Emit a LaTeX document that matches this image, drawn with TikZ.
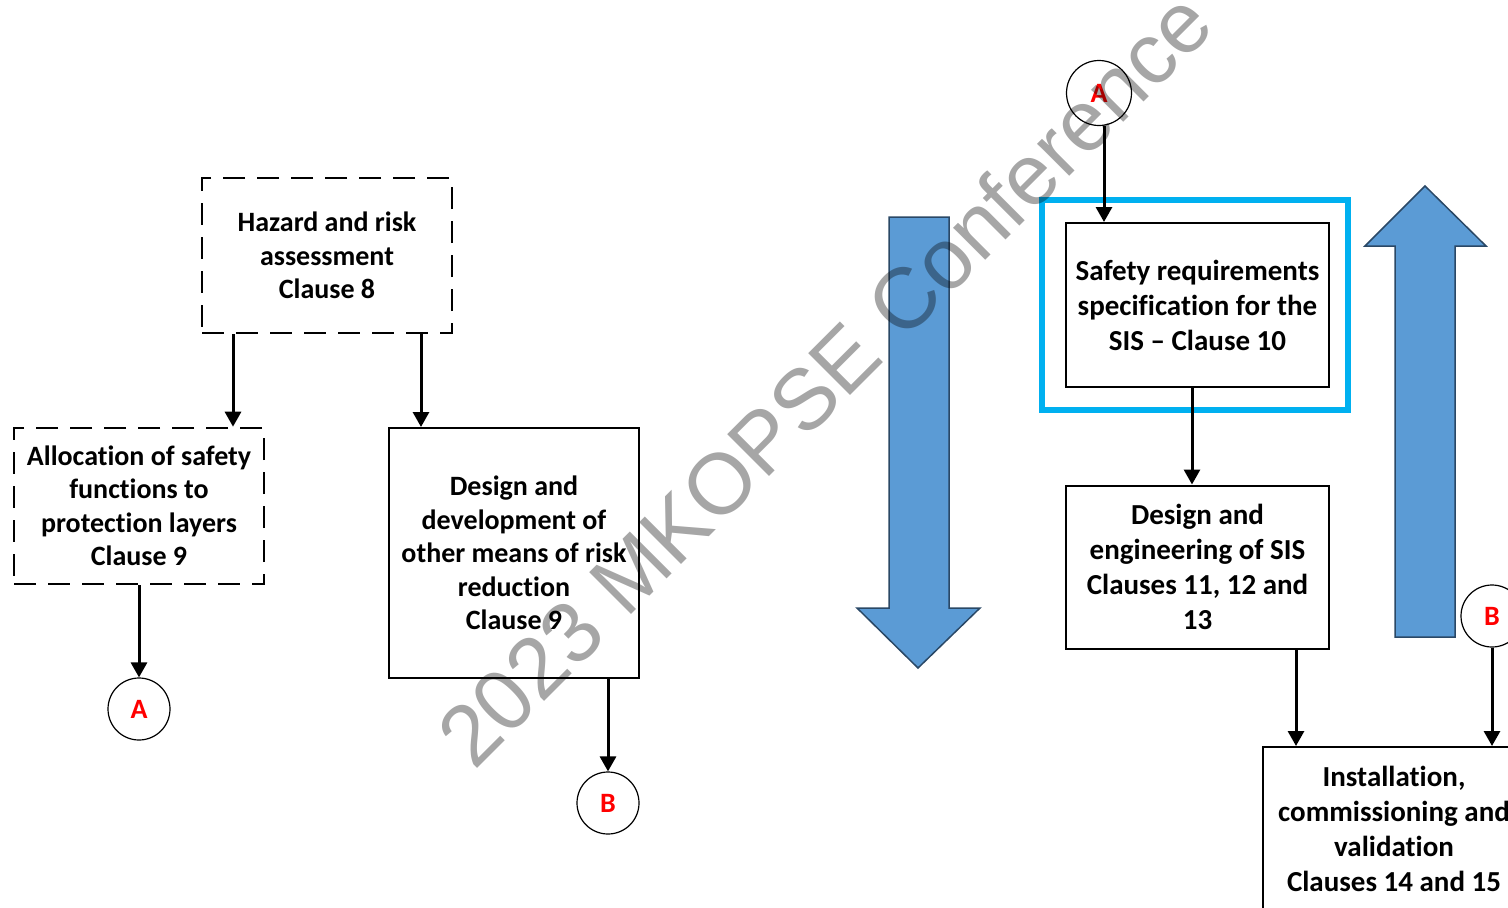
\documentclass[tikz,border=0pt]{standalone}
\usepackage{fontspec}
\setmainfont{Carlito}[Ligatures=NoCommon]
\newfontfamily\wmfont{Liberation Sans}
\usetikzlibrary{arrows.meta}
\definecolor{bluefill}{HTML}{5B9BD5}
\definecolor{blueedge}{HTML}{2A4866}
\definecolor{hlcyan}{HTML}{00B0F0}
\begin{document}
\begin{tikzpicture}[x=1pt,y=-1pt,
  box/.style={draw, line width=2pt, align=center, inner sep=0pt,
    font=\fontsize{28}{33.5}\selectfont\bfseries},
  rbox/.style={box, font=\fontsize{29}{35}\selectfont\bfseries},
  dbox/.style={box, line width=2.6pt, dash pattern=on 22pt off 12pt},
  conn/.style={circle, draw, line width=1.2pt, minimum size=62pt, inner sep=0pt,
    text=red, font=\fontsize{28}{30}\selectfont\bfseries},
  arr/.style={line width=3pt, -{Triangle[width=16pt,length=15pt]}},
  bigarrow/.style={fill=bluefill, draw=blueedge, line width=1.5pt, line join=miter},
  hl/.style={draw=hlcyan, line width=6.5pt},
  wm/.style={rotate=45, anchor=base, inner sep=0pt, text=black, text opacity=0.35,
    font=\wmfont\fontsize{86}{90}\selectfont}
]
\useasboundingbox (0,0) rectangle (1508,908);
\clip (0,0) rectangle (1508,908);

% left part
\node[dbox, minimum width=250pt, minimum height=155pt] (haz) at (327,255.5)
  {Hazard and risk\\assessment\\Clause 8};
\node[dbox, minimum width=250pt, minimum height=156pt] (alloc) at (139,506)
  {Allocation of safety\\functions to\\protection layers\\Clause 9};
\node[box, minimum width=250pt, minimum height=250pt] (des) at (514,553)
  {Design and\\development of\\other means of risk\\reduction\\Clause 9};
\node[conn] (A1) at (139,709) {A};
\node[conn] (B1) at (608,803) {B};

\draw[arr] ([xshift=-94pt]haz.south) -- ([xshift=-94pt]haz.south |- alloc.north);
\draw[arr] ([xshift=94pt]haz.south) -- ([xshift=94pt]haz.south |- des.north);
\draw[arr] (alloc.south) -- (A1.north);
\draw[arr] (des.south -| B1.north) -- (B1.north);

% big blue arrows
\draw[bigarrow] (889,217) -- (949,217) -- (949,608) -- (980,608) -- (918,668)
  -- (857,608) -- (889,608) -- cycle;
\draw[bigarrow] (1395,637) -- (1455,637) -- (1455,246) -- (1486,246) -- (1425,186)
  -- (1365,246) -- (1395,246) -- cycle;

% right part
\draw[hl] (1042,200) rectangle (1348,410);
\node[rbox, minimum width=263pt, minimum height=164pt] (srs) at (1197.5,305)
  {Safety requirements\\specification for the\\SIS -- Clause 10};
\node[rbox, minimum width=263pt, minimum height=163pt] (sis) at (1197.5,567)
  {Design and\\engineering of SIS\\Clauses 11, 12 and\\13};
\node[rbox, minimum width=262pt, minimum height=163pt] (inst) at (1394,828.5)
  {Installation,\\commissioning and\\validation\\Clauses 14 and 15};
\node[conn, minimum size=65pt] (A2) at (1099,93) {A};
\node[conn] (B2) at (1492,616) {B};

\draw[arr] ([xshift=5pt]A2.south) -- ([xshift=5pt]A2.south |- srs.north);
\draw[arr] ([xshift=-5.5pt]srs.south) -- ([xshift=-5.5pt]srs.south |- sis.north);
\draw[arr] ([xshift=98.5pt]sis.south) -- ([xshift=98.5pt]sis.south |- inst.north);
\draw[arr] (B2.south) -- (B2.south |- inst.north);

% watermark
\node[wm] (mark) at (846,400) {2023 MKOPSE Conference};
\end{tikzpicture}
\end{document}
